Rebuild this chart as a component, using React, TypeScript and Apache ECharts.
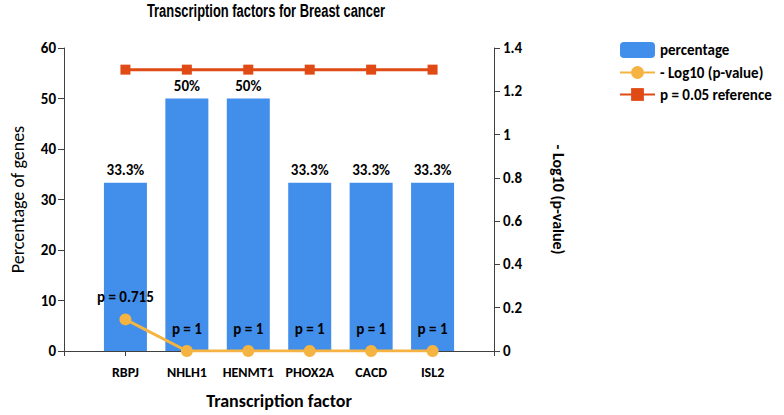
import React, { useEffect, useRef } from "react";
import * as echarts from "echarts";

const categories = ["RBPJ", "NHLH1", "HENMT1", "PHOX2A", "CACD", "ISL2"];
const percentage = [33.3, 50, 50, 33.3, 33.3, 33.3];
const pValues = [0.715, 1, 1, 1, 1, 1];
const negLog10P = [0.146, 0, 0, 0, 0, 0];
const referenceLine = [1.3, 1.3, 1.3, 1.3, 1.3, 1.3];

const FONT = "Carlito, Lato, 'Noto Sans', sans-serif";

export default function App() {
  const ref = useRef<HTMLDivElement>(null);
  useEffect(() => {
    if (!ref.current) return;
    document.body.style.margin = "0";
    const chart = echarts.init(ref.current, null, { renderer: "svg" });
    const pad = <T,>(arr: T[]) => ["-", ...arr, "-"] as any[];
    const axisColor = "#404040";
    chart.setOption({
      animation: false,
      graphic: [
        {
          type: "text",
          x: 266,
          y: 10,
          scaleX: 0.68,
          style: {
            text: "Transcription factors for Breast cancer",
            font: "bold 19px 'Liberation Sans', Arial, sans-serif",
            fill: "#000",
            align: "center",
            verticalAlign: "middle",
          },
        },
      ],
      legend: {
        orient: "vertical",
        left: 614,
        top: 37,
        itemWidth: 35,
        itemHeight: 16,
        itemGap: 7,
        textStyle: { fontFamily: FONT, fontWeight: "bold", fontSize: 15, color: "#000" },
        data: ["percentage", "- Log10 (p-value)", "p = 0.05 reference"],
      },
      grid: { left: 64, right: 290, top: 48, bottom: 60, containLabel: false },
      xAxis: {
        type: "category",
        data: ["", ...categories, ""],
        boundaryGap: false,
        name: "Transcription factor",
        nameLocation: "middle",
        nameGap: 41,
        nameTextStyle: { fontFamily: FONT, fontWeight: "bold", fontSize: 18, color: "#000" },
        axisLine: { show: true, lineStyle: { color: axisColor, width: 1 } },
        axisTick: { show: true, length: 5, interval: 0, lineStyle: { color: axisColor } },
        axisLabel: { interval: 0, margin: 14, fontFamily: FONT, fontWeight: "bold", fontSize: 14, color: "#000" },
        splitLine: { show: false },
      },
      yAxis: [
        {
          type: "value",
          min: 0,
          max: 60,
          interval: 10,
          name: "Percentage of genes",
          nameLocation: "middle",
          nameGap: 37,
          nameTextStyle: { fontFamily: FONT, fontSize: 18, color: "#000" },
          axisLine: { show: true, lineStyle: { color: axisColor } },
          axisTick: { show: true, length: 6, lineStyle: { color: axisColor } },
          axisLabel: { margin: 8, fontFamily: FONT, fontWeight: "bold", fontSize: 15, color: "#000" },
          splitLine: { show: false },
        },
        {
          type: "value",
          min: 0,
          max: 1.4,
          interval: 0.2,
          name: "- Log10 (p-value)",
          nameLocation: "middle",
          nameGap: 56,
          nameRotate: -90,
          nameTextStyle: { fontFamily: FONT, fontWeight: "bold", fontSize: 16, color: "#000" },
          axisLine: { show: true, lineStyle: { color: axisColor } },
          axisTick: { show: true, length: 6, lineStyle: { color: axisColor } },
          axisLabel: { margin: 9, fontFamily: FONT, fontWeight: "bold", fontSize: 15, color: "#000" },
          splitLine: { show: false },
        },
      ],
      series: [
        {
          name: "percentage",
          type: "bar",
          yAxisIndex: 0,
          barWidth: 43,
          data: pad(percentage),
          itemStyle: { color: "#418EEB" },
          label: {
            show: true,
            position: "top",
            distance: 5,
            formatter: (p: any) => `${p.value}%`,
            fontFamily: FONT,
            fontWeight: "bold",
            fontSize: 15,
            color: "#000",
          },
        },
        {
          name: "- Log10 (p-value)",
          type: "line",
          yAxisIndex: 1,
          data: pad(negLog10P),
          symbol: "circle",
          symbolSize: 12,
          itemStyle: { color: "#F5B342" },
          lineStyle: { color: "#F5B342", width: 3 },
          z: 3,
          label: {
            show: true,
            position: "top",
            distance: 9,
            formatter: (p: any) => `p = ${pValues[p.dataIndex - 1]}`,
            fontFamily: FONT,
            fontWeight: "bold",
            fontSize: 15,
            color: "#000",
          },
        },
        {
          name: "p = 0.05 reference",
          type: "line",
          yAxisIndex: 1,
          data: pad(referenceLine),
          symbol: "rect",
          symbolSize: 10,
          itemStyle: { color: "#E04A14" },
          lineStyle: { color: "#E04A14", width: 3 },
          z: 4,
        },
      ],
    });
    return () => chart.dispose();
  }, []);
  return <div ref={ref} style={{ width: 784, height: 415 }} />;
}
